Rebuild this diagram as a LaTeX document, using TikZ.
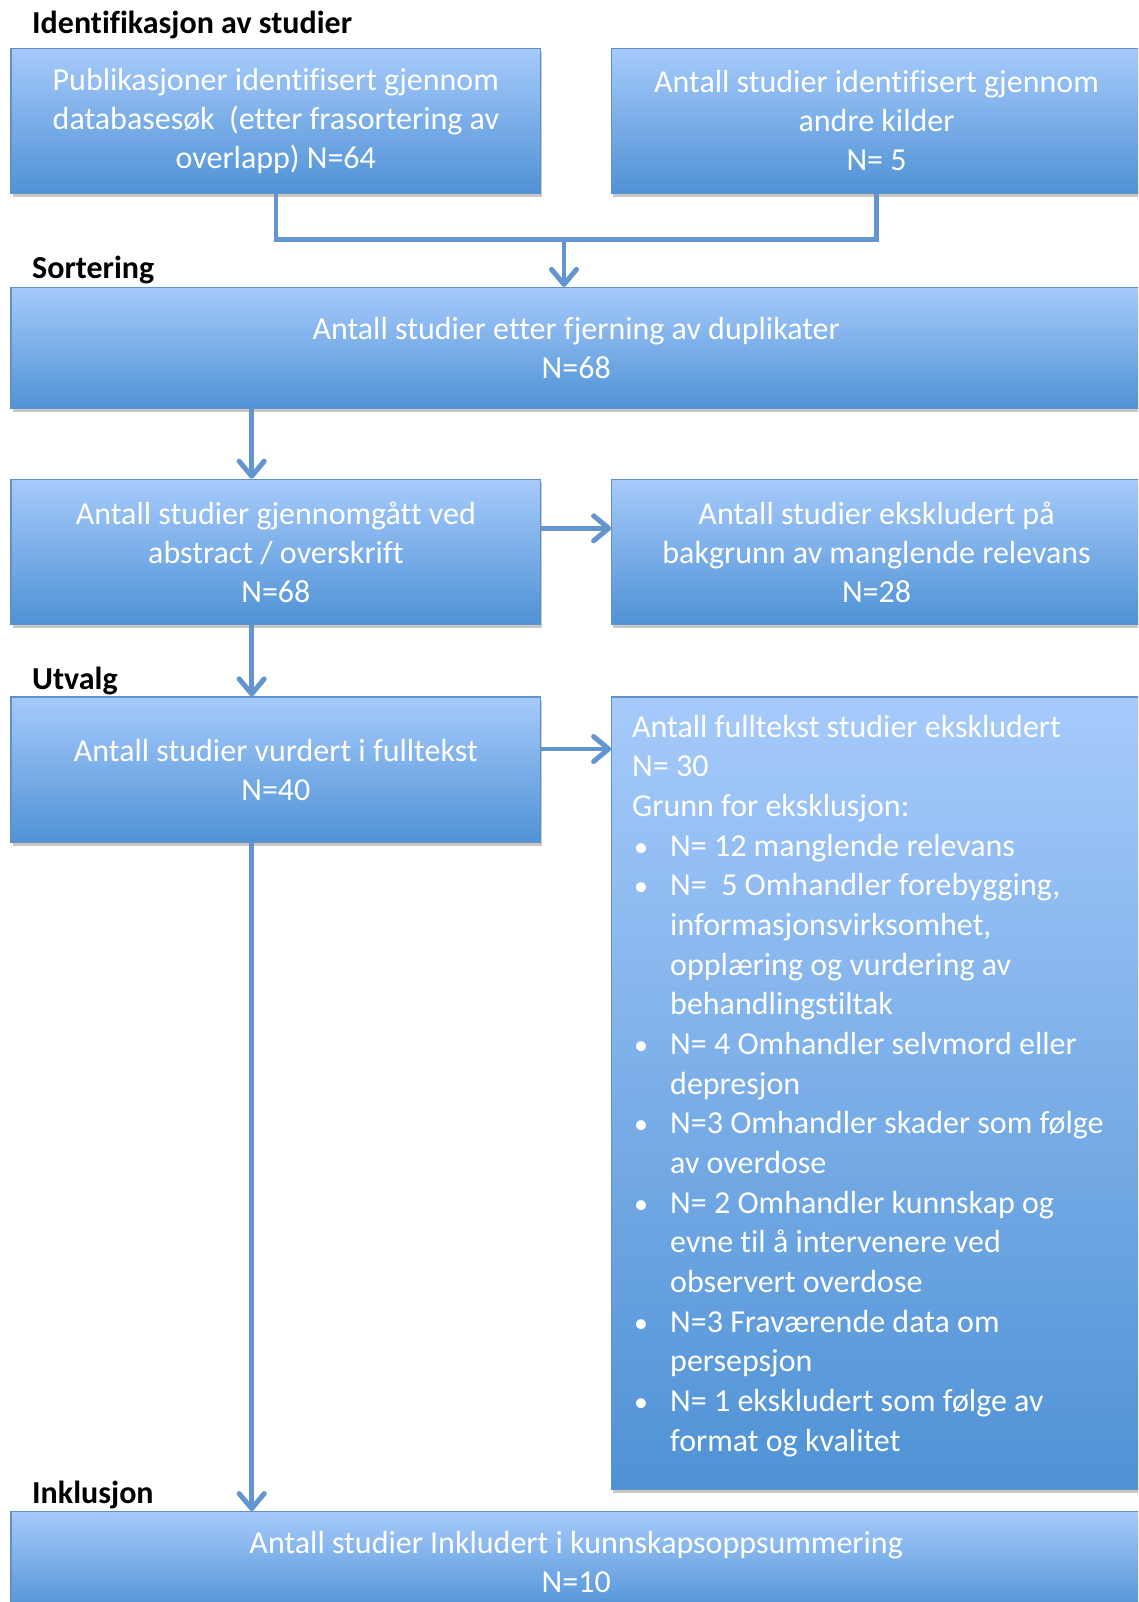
\documentclass[tikz,border=0pt]{standalone}
\usepackage{fontspec}
\setmainfont{Carlito}[Ligatures=NoCommon]
\usetikzlibrary{arrows.meta,shadows}
\definecolor{boxtop}{RGB}{166,202,251}
\definecolor{boxbot}{RGB}{79,146,213}
\definecolor{boxline}{RGB}{98,145,200}
\definecolor{conncol}{RGB}{99,150,206}
\newcommand\boxfont{\fontsize{32}{39}\selectfont}
\newcommand\listfont{\fontsize{32}{39.67}\selectfont}
\newcommand\headfont{\fontsize{32}{38}\selectfont\bfseries}
\newcommand\bul{\hspace*{2pt}\makebox[36pt][l]{\fontsize{28}{30}\selectfont•}}
\newcommand\ind{\hspace*{38pt}}
\newcommand\lline[1]{\hbox{#1}}
\tikzset{
  box/.style={rectangle, draw=boxline, line width=1.2pt, top color=boxtop, bottom color=boxbot,
    inner sep=0pt, text=white, align=center, font=\boxfont,
    drop shadow={shadow xshift=1.5pt, shadow yshift=-3.5pt, opacity=0.3, fill=black!70}},
  heading/.style={anchor=base west, inner sep=0pt, font=\headfont, text=black},
  conn/.style={draw=conncol, line width=4.5pt, -{Straight Barb[length=15pt, width=25pt, line width=5pt, round]}},
  link/.style={draw=conncol, line width=4.5pt, line join=miter},
}
\begin{document}
\begin{tikzpicture}[x=1pt, y=-1pt]
\useasboundingbox (0,0) rectangle (1138,1602);
\fill[white] (0,0) rectangle (1138,1602);
\clip (0,0) rectangle (1138,1602);

\node[heading] (h1) at (32,33.3) {Identifikasjon av studier};
\node[heading] (h2) at (32,279) {Sortering};
\node[heading] (h3) at (32,689) {Utvalg};
\node[heading] (h4) at (32,1503) {Inklusjon};

\node[box, minimum width=529.7pt, minimum height=145pt] (box1) at (275.85,121)
  {Publikasjoner identifisert gjennom\\databasesøk\ \ (etter frasortering av\\overlapp) N=64};
\node[box, minimum width=529.7pt, minimum height=145pt] (box2) at (876.55,121)
  {Antall studier identifisert gjennom\\andre kilder\\N= 5};
\node[box, minimum width=1130.4pt, minimum height=121pt] (box3) at (576.2,348)
  {Antall studier etter fjerning av duplikater\\N=68};
\node[box, minimum width=529.7pt, minimum height=145pt] (box4) at (275.85,551.8)
  {Antall studier gjennomgått ved\\abstract / overskrift\\N=68};
\node[box, minimum width=529.7pt, minimum height=145pt] (box5) at (876.55,551.8)
  {Antall studier ekskludert på\\bakgrunn av manglende relevans\\N=28};
\node[box, minimum width=529.7pt, minimum height=145pt] (box6) at (275.85,769.5)
  {Antall studier vurdert i fulltekst\\N=40};
\node[box, minimum width=529.7pt, minimum height=792.3pt] (box7) at (876.55,1093.15) {};
\node[anchor=base west, inner sep=0pt, text=white, font=\listfont]
  (box7text) at (632,737) {\vtop{%
\lline{Antall fulltekst studier ekskludert}
\lline{N= 30}
\lline{Grunn for eksklusjon:}
\lline{\bul N= 12 manglende relevans}
\lline{\bul N=\ \ 5 Omhandler forebygging,}
\lline{\ind informasjonsvirksomhet,}
\lline{\ind opplæring og vurdering av}
\lline{\ind behandlingstiltak}
\lline{\bul N= 4 Omhandler selvmord eller}
\lline{\ind depresjon}
\lline{\bul N=3 Omhandler skader som følge}
\lline{\ind av overdose}
\lline{\bul N= 2 Omhandler kunnskap og}
\lline{\ind evne til å intervenere ved}
\lline{\ind observert overdose}
\lline{\bul N=3 Fraværende data om}
\lline{\ind persepsjon}
\lline{\bul N= 1 ekskludert som følge av}
\lline{\ind format og kvalitet}}};
\node[box, minimum width=1130.4pt, minimum height=101.3pt] (box8) at (576.2,1562.35)
  {Antall studier Inkludert i kunnskapsoppsummering\\N=10};

\coordinate (j) at (564,239.3);
\coordinate (ax) at (251.7,0);

\draw[link] (box1.south) -- (box1.south |- j) -- (box2.south |- j) -- (box2.south);
\draw[conn] (j) -- (j |- box3.north);
\draw[conn] (ax |- box3.south) -- (ax |- box4.north);
\draw[conn] ([yshift=23.5pt]box4.east) -- ([yshift=23.5pt]box4.east -| box5.west);
\draw[conn] (ax |- box4.south) -- (ax |- box6.north);
\draw[conn] ([yshift=20.5pt]box6.east) -- ([yshift=20.5pt]box6.east -| box7.west);
\draw[conn] (ax |- box6.south) -- (ax |- box8.north);
\end{tikzpicture}
\end{document}
